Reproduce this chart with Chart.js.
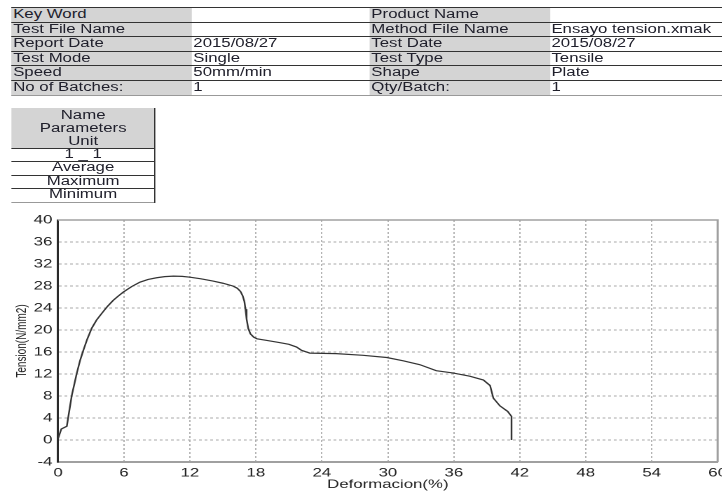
<!DOCTYPE html>
<html>
<head>
<meta charset="utf-8">
<script src="https://cdn.jsdelivr.net/npm/chart.js@4/dist/chart.umd.min.js"></script>
<style>
  html, body { margin: 0; padding: 0; background: #fff; overflow: hidden; }
  body { width: 722px; height: 492px; }
  /* the whole sheet is drawn narrow and stretched sideways, like the scanned report */
  #page { position: absolute; left: 0; top: 0; width: 515.7px; height: 492px;
          transform: scaleX(1.4); transform-origin: 0 0;
          font: 12px "Liberation Sans", Arial, sans-serif; color: #20202c; }
  #info { position: absolute; left: 8.4px; top: 7px; width: 507.3px; }
  #info .row { display: flex; height: 13.6px; border-top: 1px solid #333; }
  #info .row:last-child { border-bottom: 1px solid #999; }
  #info .c { flex: none; line-height: 13.6px; padding-left: 1px; box-sizing: border-box;
             white-space: nowrap; overflow: hidden; }
  #info .c:nth-child(1) { width: 128.7px; }
  #info .c:nth-child(2) { width: 127.2px; }
  #info .c:nth-child(3) { width: 128.6px; }
  #info .c:nth-child(4) { width: 122.8px; }
  .g { background: #d4d4d4; }
  #stats { position: absolute; left: 8.4px; top: 108px; width: 102px;
           border-right: 1.4px solid #333; text-align: center; }
  #stats .head { height: 40px; background: #d4d4d4; line-height: 13px; padding-top: 1px; box-sizing: border-box; }
  #stats .r { height: 12.4px; line-height: 11.6px; border-top: 1px solid #333; }
  #stats .r:last-child { border-bottom: 1px solid #999; }
  #plot { position: absolute; left: 0; top: 205px; width: 515.7px; height: 287px; }
</style>
</head>
<body>
<div id="page">
  <div id="info">
    <div class="row"><span class="c g">Key Word</span><span class="c"></span><span class="c g">Product Name</span><span class="c"></span></div>
    <div class="row"><span class="c g">Test File Name</span><span class="c"></span><span class="c g">Method File Name</span><span class="c">Ensayo tension.xmak</span></div>
    <div class="row"><span class="c g">Report Date</span><span class="c">2015/08/27</span><span class="c g">Test Date</span><span class="c">2015/08/27</span></div>
    <div class="row"><span class="c g">Test Mode</span><span class="c">Single</span><span class="c g">Test Type</span><span class="c">Tensile</span></div>
    <div class="row"><span class="c g">Speed</span><span class="c">50mm/min</span><span class="c g">Shape</span><span class="c">Plate</span></div>
    <div class="row"><span class="c g">No of Batches:</span><span class="c">1</span><span class="c g">Qty/Batch:</span><span class="c">1</span></div>
  </div>
  <div id="stats">
    <div class="head">Name<br>Parameters<br>Unit</div>
    <div class="r">1 _ 1</div>
    <div class="r">Average</div>
    <div class="r">Maximum</div>
    <div class="r">Minimum</div>
  </div>
  <div id="plot"><canvas id="curve"></canvas></div>
</div>
<script>
// Deformacion (%) vs Tension (N/mm2)
var deformacion = [0, 0.3, 0.8, 1.25, 1.5, 1.7, 2.0, 2.3, 2.65, 3.06, 3.5, 3.97, 4.5, 5.03,
    5.5, 5.94, 6.7, 7.45, 8.2, 8.97, 9.7, 10.5, 11.3, 12.0, 13.0, 14.1, 15.0, 15.9, 16.3,
    16.6, 16.8, 16.95, 17.05, 17.15, 17.3, 17.5, 17.8, 18.1, 19.0, 20.2, 21.0, 21.7, 22.15,
    22.9, 25.3, 27.75, 29.9, 31.4, 32.9, 34.4, 35.9, 37.45, 38.7, 39.3, 39.6, 40.2, 40.9,
    41.25, 41.25];
var tension = [0.2, 2.0, 2.5, 8.1, 10.3, 12.1, 14.4, 16.3, 18.3, 20.3, 21.8, 23.0, 24.3, 25.4,
    26.2, 26.9, 27.9, 28.7, 29.2, 29.5, 29.7, 29.8, 29.75, 29.6, 29.3, 28.9, 28.5, 28.0, 27.6,
    27.0, 26.2, 25.2, 23.8, 22.0, 20.3, 19.3, 18.7, 18.4, 18.1, 17.7, 17.4, 16.9, 16.3,
    15.8, 15.7, 15.4, 15.0, 14.4, 13.7, 12.6, 12.2, 11.6, 10.9, 9.9, 7.6, 6.2, 5.2,
    4.3, 0];
var xTicks = [0, 6, 12, 18, 24, 30, 36, 42, 48, 54, 60];
var yTicks = [-4, 0, 4, 8, 12, 16, 20, 24, 28, 32, 36, 40];

Chart.defaults.font.family = '"Liberation Sans", Arial, sans-serif';
Chart.defaults.font.size = 12;
Chart.defaults.color = '#222';

// top and right edge of the plot box
var frame = {
    id: 'frame',
    afterDraw: function (chart) {
        var a = chart.chartArea, ctx = chart.ctx;
        ctx.save();
        ctx.strokeStyle = '#a0a0a0';
        ctx.lineWidth = 1.5;
        ctx.beginPath();
        ctx.moveTo(a.left, a.top);
        ctx.lineTo(a.right, a.top);
        ctx.lineTo(a.right, a.bottom);
        ctx.stroke();
        ctx.restore();
    }
};

var ctx = document.getElementById('curve');
var myChart = new Chart(ctx, {
    type: 'line',
    data: {
        datasets: [{
            data: deformacion.map(function (x, i) { return {x: x, y: tension[i]}; }),
            borderColor: '#333',
            borderWidth: 1.2,
            pointRadius: 0,
            tension: 0,
            fill: false
        }]
    },
    options: {
        responsive: true,
        maintainAspectRatio: false,
        animation: false,
        devicePixelRatio: 2,
        layout: { padding: { top: 15, right: 3.6, left: 0, bottom: 0 } },
        plugins: { legend: { display: false }, tooltip: { enabled: false } },
        scales: {
            x: {
                type: 'linear',
                min: 0,
                max: 60,
                afterBuildTicks: function (s) { s.ticks = xTicks.map(function (v) { return {value: v}; }); },
                afterFit: function (s) { s.height = 30; s.paddingLeft = 0; s.paddingRight = 0; },
                ticks: { padding: 4, maxRotation: 0, autoSkip: false },
                grid: { color: '#b4b4b4', lineWidth: 1, drawTicks: false },
                border: { color: '#a0a0a0', width: 2, dash: [2, 2] },
                title: { display: true, text: 'Deformacion(%)', padding: { top: 0, bottom: 0 },
                         font: { size: 12 } }
            },
            y: {
                min: -4,
                max: 40,
                afterBuildTicks: function (s) { s.ticks = yTicks.map(function (v) { return {value: v}; }); },
                afterFit: function (s) { s.width = 41.4; },
                ticks: { padding: 4, autoSkip: false },
                grid: { color: '#a8a8a8', lineWidth: 1, drawTicks: false },
                border: { color: '#2a2a2a', width: 1.5, dash: [2, 2] },
                title: { display: true, text: 'Tension(N/mm2)', padding: { top: 9.7, bottom: 0 },
                         font: { size: 10 } }
            }
        }
    },
    plugins: [frame]
});
</script>
</body>
</html>
